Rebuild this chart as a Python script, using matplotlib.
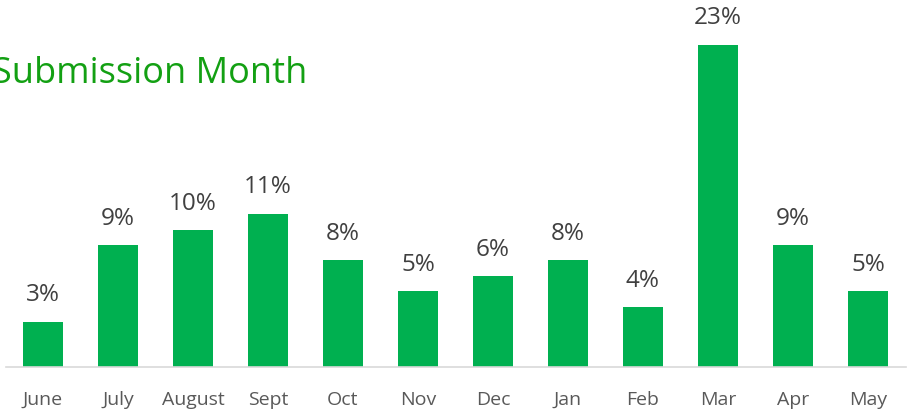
import matplotlib.pyplot as plt

months = ["June", "July", "August", "Sept", "Oct", "Nov",
          "Dec", "Jan", "Feb", "Mar", "Apr", "May"]
share = [3.2, 8.6, 9.65, 10.8, 7.55, 5.35, 6.4, 7.55, 4.2, 22.7, 8.6, 5.35]

plt.rcParams['font.family'] = ['Open Sans', 'DejaVu Sans']

fig = plt.figure(figsize=(9.08, 4.11), dpi=100)
ax = fig.add_axes([5.5 / 908, 44 / 411, 900 / 908, 355 / 411])

x = range(len(months))
bars = ax.bar(x, share, width=40 / 75, color="#00B050")
for b, v in zip(bars, share):
    ax.text(b.get_x() + b.get_width() / 2, v + 1.0, f"{v:.0f}%",
            ha="center", va="bottom", fontsize=17.5, color="#404040")

ax.set_xlim(-0.5, len(months) - 0.5)
ax.set_ylim(0, 25)
ax.set_xticks(list(x))
ax.set_xticklabels(months, fontsize=14, color="#595959")
ax.tick_params(axis="x", length=0, pad=17)
ax.set_yticks([])
for s in ["top", "right", "left"]:
    ax.spines[s].set_visible(False)
ax.spines["bottom"].set_color("#D9D9D9")
ax.spines["bottom"].set_linewidth(1.2)

# title runs off the left edge in the reference too
fig.text(-8 / 908, 1 - 74 / 411, "Submission Month", fontsize=26,
         color="#13A013", va="center", ha="left")

fig.savefig("out.png", dpi=100)
